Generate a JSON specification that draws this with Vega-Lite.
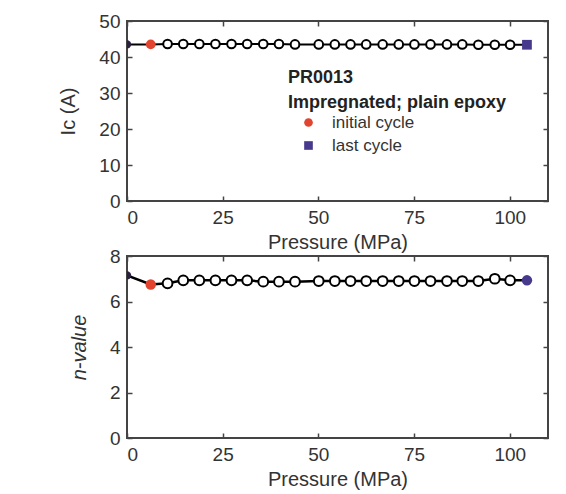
{
  "$schema": "https://vega.github.io/schema/vega-lite/v6.json",
  "background": "white",
  "padding": {"top": 11, "left": 57, "right": 10, "bottom": 2},
  "datasets": {
    "pts": [
      {"p": 0, "ic": 43.5, "n": 7.15, "cycle": "start"},
      {"p": 6.2, "ic": 43.5, "n": 6.75, "cycle": "initial cycle"},
      {"p": 10.6, "ic": 43.6, "n": 6.8, "cycle": "mid"},
      {"p": 14.7, "ic": 43.6, "n": 6.93, "cycle": "mid"},
      {"p": 18.9, "ic": 43.6, "n": 6.93, "cycle": "mid"},
      {"p": 23.1, "ic": 43.6, "n": 6.93, "cycle": "mid"},
      {"p": 27.3, "ic": 43.6, "n": 6.93, "cycle": "mid"},
      {"p": 31.4, "ic": 43.6, "n": 6.93, "cycle": "mid"},
      {"p": 35.6, "ic": 43.6, "n": 6.87, "cycle": "mid"},
      {"p": 39.7, "ic": 43.6, "n": 6.87, "cycle": "mid"},
      {"p": 43.9, "ic": 43.5, "n": 6.87, "cycle": "mid"},
      {"p": 50.1, "ic": 43.5, "n": 6.9, "cycle": "mid"},
      {"p": 54.3, "ic": 43.5, "n": 6.9, "cycle": "mid"},
      {"p": 58.4, "ic": 43.5, "n": 6.9, "cycle": "mid"},
      {"p": 62.5, "ic": 43.5, "n": 6.9, "cycle": "mid"},
      {"p": 66.8, "ic": 43.5, "n": 6.9, "cycle": "mid"},
      {"p": 71.0, "ic": 43.5, "n": 6.9, "cycle": "mid"},
      {"p": 75.1, "ic": 43.5, "n": 6.9, "cycle": "mid"},
      {"p": 79.3, "ic": 43.5, "n": 6.9, "cycle": "mid"},
      {"p": 83.6, "ic": 43.5, "n": 6.9, "cycle": "mid"},
      {"p": 87.6, "ic": 43.5, "n": 6.9, "cycle": "mid"},
      {"p": 91.8, "ic": 43.4, "n": 6.9, "cycle": "mid"},
      {"p": 96.1, "ic": 43.4, "n": 7.0, "cycle": "mid"},
      {"p": 100.1, "ic": 43.4, "n": 6.93, "cycle": "mid"},
      {"p": 104.5, "ic": 43.4, "n": 6.93, "cycle": "last cycle"}
    ]
  },
  "data": {"name": "pts"},
  "spacing": -7,
  "vconcat": [
    {
      "width": 421,
      "height": 180,
      "encoding": {
        "x": {"field": "p", "type": "quantitative", "scale": {"domain": [0, 110], "nice": false}, "axis": null},
        "y": {"field": "ic", "type": "quantitative", "scale": {"domain": [0, 50], "nice": false}, "axis": null}
      },
      "layer": [
        {"mark": {"type": "line", "color": "black", "strokeWidth": 2, "clip": true},
         "encoding": {
           "x": {"field": "p", "type": "quantitative", "scale": {"domain": [0, 110], "nice": false},
                 "axis": {"values": [0, 25, 50, 75, 100], "title": "Pressure (MPa)"}},
           "y": {"field": "ic", "type": "quantitative", "scale": {"domain": [0, 50], "nice": false},
                 "axis": {"values": [0, 10, 20, 30, 40, 50], "title": "Ic (A)"}}
         }},
        {"transform": [{"filter": "datum.cycle == 'start'"}],
         "mark": {"type": "point", "filled": true, "color": "#2a2040", "size": 70, "opacity": 1, "clip": true}},
        {"transform": [{"filter": "datum.cycle == 'mid'"}],
         "mark": {"type": "point", "fill": "white", "fillOpacity": 1, "stroke": "black", "strokeWidth": 2, "size": 75, "opacity": 1, "clip": true}},
        {"transform": [{"filter": "datum.cycle == 'initial cycle' || datum.cycle == 'last cycle'"}],
         "mark": {"type": "point", "filled": true, "size": 95, "opacity": 1, "clip": true},
         "encoding": {
           "color": {"field": "cycle", "type": "nominal",
                     "scale": {"domain": ["initial cycle", "last cycle"], "range": ["#e2452f", "#473a8c"]},
                     "legend": {"orient": "none", "legendX": 161, "legendY": 48,
                                "title": ["PR0013", "Impregnated; plain epoxy"],
                                "titleFontSize": 18, "titleFontWeight": "bold", "titleColor": "#222",
                                "titleLineHeight": 25, "titleLimit": 400, "titlePadding": 2,
                                "labelFontSize": 17, "labelColor": "#333",
                                "symbolOffset": 12, "labelOffset": 15, "rowPadding": 5, "symbolSize": 75,
                                "symbolStrokeWidth": 0}},
           "shape": {"field": "cycle", "type": "nominal",
                     "scale": {"domain": ["initial cycle", "last cycle"], "range": ["circle", "square"]}}
         }},
        {"mark": {"type": "point", "opacity": 0},
         "encoding": {
           "x": {"field": "p", "type": "quantitative", "axis": {"orient": "top", "values": [0, 25, 50, 75, 100], "labels": false, "title": null}},
           "y": {"field": "ic", "type": "quantitative", "axis": {"orient": "right", "values": [0, 10, 20, 30, 40, 50], "labels": false, "title": null}}
         }}
      ],
      "resolve": {"axis": {"x": "independent", "y": "independent"}}
    },
    {
      "width": 421,
      "height": 182,
      "encoding": {
        "x": {"field": "p", "type": "quantitative", "scale": {"domain": [0, 110], "nice": false}, "axis": null},
        "y": {"field": "n", "type": "quantitative", "scale": {"domain": [0, 8], "nice": false}, "axis": null}
      },
      "layer": [
        {"mark": {"type": "line", "color": "black", "strokeWidth": 2.5, "clip": true},
         "encoding": {
           "x": {"field": "p", "type": "quantitative", "scale": {"domain": [0, 110], "nice": false},
                 "axis": {"values": [0, 25, 50, 75, 100], "title": "Pressure (MPa)"}},
           "y": {"field": "n", "type": "quantitative", "scale": {"domain": [0, 8], "nice": false},
                 "axis": {"values": [0, 2, 4, 6, 8], "title": "n-value", "titleFontStyle": "italic"}}
         }},
        {"transform": [{"filter": "datum.cycle == 'start'"}],
         "mark": {"type": "point", "filled": true, "color": "#2a2040", "size": 70, "opacity": 1, "clip": true}},
        {"transform": [{"filter": "datum.cycle == 'mid'"}],
         "mark": {"type": "point", "fill": "white", "fillOpacity": 1, "stroke": "black", "strokeWidth": 2, "size": 95, "opacity": 1, "clip": true}},
        {"transform": [{"filter": "datum.cycle == 'initial cycle' || datum.cycle == 'last cycle'"}],
         "mark": {"type": "point", "filled": true, "shape": "circle", "size": 110, "opacity": 1, "clip": true},
         "encoding": {
           "color": {"field": "cycle", "type": "nominal",
                     "scale": {"domain": ["initial cycle", "last cycle"], "range": ["#e2452f", "#473a8c"]},
                     "legend": null}
         }},
        {"mark": {"type": "point", "opacity": 0},
         "encoding": {
           "x": {"field": "p", "type": "quantitative", "axis": {"orient": "top", "values": [0, 25, 50, 75, 100], "labels": false, "title": null}},
           "y": {"field": "n", "type": "quantitative", "axis": {"orient": "right", "values": [0, 2, 4, 6, 8], "labels": false, "title": null}}
         }}
      ],
      "resolve": {"axis": {"x": "independent", "y": "independent"}}
    }
  ],
  "resolve": {"scale": {"color": "independent", "shape": "independent"}},
  "config": {
    "font": "Liberation Sans",
    "view": {"stroke": "#444", "strokeWidth": 2},
    "axis": {
      "domain": false, "grid": false,
      "ticks": true, "tickSize": -5, "tickColor": "#444", "tickWidth": 1.5,
      "labelFont": "Liberation Sans", "labelFontSize": 19, "labelColor": "#333", "labelPadding": 12,
      "titleFont": "Liberation Sans", "titleFontSize": 20, "titleFontWeight": "normal", "titleColor": "#333",
      "titlePadding": 5
    },
    "axisY": {"titlePadding": 20}
  }
}
